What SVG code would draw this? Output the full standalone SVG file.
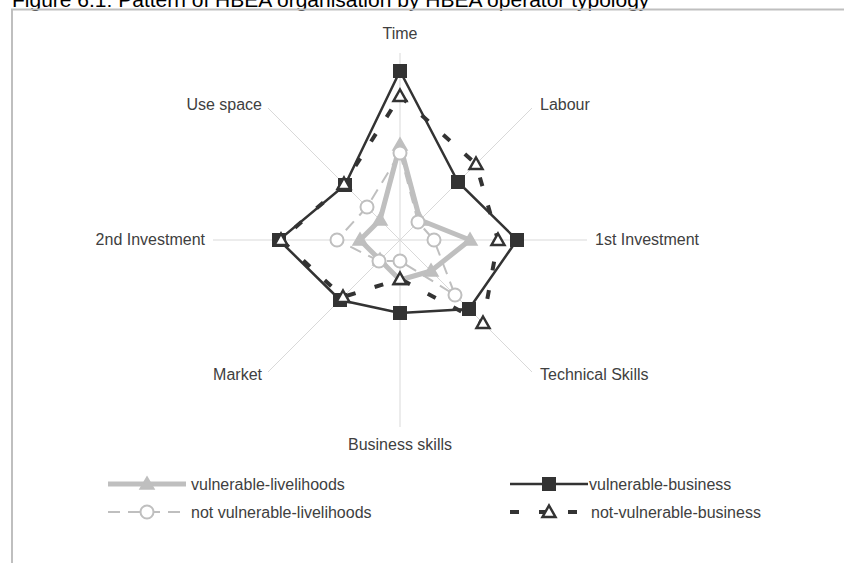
<svg xmlns="http://www.w3.org/2000/svg" xmlns:xlink="http://www.w3.org/1999/xlink" width="844" height="563" viewBox="0 0 844 563">
<style>
text{font-family:"Liberation Sans",Arial,sans-serif;fill:#404040;font-size:16px}
.axis{stroke:#d9d9d9;stroke-width:1;fill:none}
.vl{stroke:#bfbfbf;stroke-width:5;fill:none;stroke-linejoin:round}
.nvl{stroke:#bfbfbf;stroke-width:2;fill:none;stroke-dasharray:12 8}
.vb{stroke:#333;stroke-width:2.5;fill:none}
.nvb{stroke:#333;stroke-width:4;fill:none;stroke-dasharray:9 20}
</style>
<defs>
<path id="tri-g" d="M0,-7 L7,5 L-7,5 Z" fill="#bfbfbf" stroke="#bfbfbf" stroke-width="1.5"/>
<circle id="circ" r="6.5" fill="#fff" stroke="#bfbfbf" stroke-width="2"/>
<rect id="sq" x="-7" y="-7" width="14" height="14" fill="#333"/>
<path id="tri-o" d="M0,-6.5 L6.5,5 L-6.5,5 Z" fill="#fff" stroke="#333" stroke-width="2.5" stroke-linejoin="miter"/>
</defs>
<rect width="844" height="563" fill="#fff"/>
<text x="12" y="7" style="font-size:21px;fill:#000">Figure 6.1: Pattern of HBEA organisation by HBEA operator typology</text>
<rect x="12" y="9.5" width="900" height="600" fill="none" stroke="#bfbfbf" stroke-width="2"/>
<g id="axes">
<line class="axis" x1="400" y1="240" x2="400" y2="53"/>
<line class="axis" x1="400" y1="240" x2="532" y2="108"/>
<line class="axis" x1="400" y1="240" x2="587" y2="240"/>
<line class="axis" x1="400" y1="240" x2="532" y2="372"/>
<line class="axis" x1="400" y1="240" x2="400" y2="427"/>
<line class="axis" x1="400" y1="240" x2="268" y2="372"/>
<line class="axis" x1="400" y1="240" x2="213" y2="240"/>
<line class="axis" x1="400" y1="240" x2="268" y2="108"/>
</g>
<g id="axis-labels">
<text x="400" y="39" text-anchor="middle">Time</text>
<text x="540" y="110">Labour</text>
<text x="595" y="245">1st Investment</text>
<text x="540" y="380">Technical Skills</text>
<text x="400" y="450" text-anchor="middle">Business skills</text>
<text x="262" y="380" text-anchor="end">Market</text>
<text x="205" y="245" text-anchor="end">2nd Investment</text>
<text x="262" y="110" text-anchor="end">Use space</text>
</g>
<g id="connectors">
<polygon class="vl" points="400,145 420,220 470,240 431,271 400,280 380,260 360,240 380,220"/>
<polygon class="nvl" points="400,153 418,222 434,240 455,295 400,261 379,261 337,240 367,207"/>
<polygon class="vb" points="400,71 458,182 517,240 469,309 400,313 340,300 279,240 345,185"/>
<polygon class="nvb" points="400,96 476,164 498,240 483,323 400,279 343,297 281,240 344,184"/>
</g>
<g id="series-vulnerable-livelihoods">
<use xlink:href="#tri-g" x="400" y="145"/><use xlink:href="#tri-g" x="420" y="220"/><use xlink:href="#tri-g" x="470" y="240"/><use xlink:href="#tri-g" x="431" y="271"/><use xlink:href="#tri-g" x="400" y="280"/><use xlink:href="#tri-g" x="380" y="260"/><use xlink:href="#tri-g" x="360" y="240"/><use xlink:href="#tri-g" x="380" y="220"/>
</g>
<g id="series-not-vulnerable-livelihoods">
<use xlink:href="#circ" x="400" y="153"/><use xlink:href="#circ" x="418" y="222"/><use xlink:href="#circ" x="434" y="240"/><use xlink:href="#circ" x="455" y="295"/><use xlink:href="#circ" x="400" y="261"/><use xlink:href="#circ" x="379" y="261"/><use xlink:href="#circ" x="337" y="240"/><use xlink:href="#circ" x="367" y="207"/>
</g>
<g id="series-vulnerable-business">
<use xlink:href="#sq" x="400" y="71"/><use xlink:href="#sq" x="458" y="182"/><use xlink:href="#sq" x="517" y="240"/><use xlink:href="#sq" x="469" y="309"/><use xlink:href="#sq" x="400" y="313"/><use xlink:href="#sq" x="340" y="300"/><use xlink:href="#sq" x="279" y="240"/><use xlink:href="#sq" x="345" y="185"/>
</g>
<g id="series-not-vulnerable-business">
<use xlink:href="#tri-o" x="400" y="96"/><use xlink:href="#tri-o" x="476" y="164"/><use xlink:href="#tri-o" x="498" y="240"/><use xlink:href="#tri-o" x="483" y="323"/><use xlink:href="#tri-o" x="400" y="279"/><use xlink:href="#tri-o" x="343" y="297"/><use xlink:href="#tri-o" x="281" y="240"/><use xlink:href="#tri-o" x="344" y="184"/>
</g>
<g id="legend">
<line class="vl" x1="108" y1="484" x2="186" y2="484"/><use xlink:href="#tri-g" x="147" y="484"/>
<text x="191" y="490">vulnerable-livelihoods</text>
<line class="vb" x1="510" y1="484" x2="588" y2="484"/><use xlink:href="#sq" x="549" y="484"/>
<text x="589" y="490">vulnerable-business</text>
<line class="nvl" x1="108" y1="512" x2="186" y2="512"/><use xlink:href="#circ" x="147" y="512"/>
<text x="191" y="518">not vulnerable-livelihoods</text>
<line class="nvb" x1="510" y1="512" x2="588" y2="512"/><use xlink:href="#tri-o" x="549" y="512"/>
<text x="591" y="518">not-vulnerable-business</text>
</g>
</svg>
